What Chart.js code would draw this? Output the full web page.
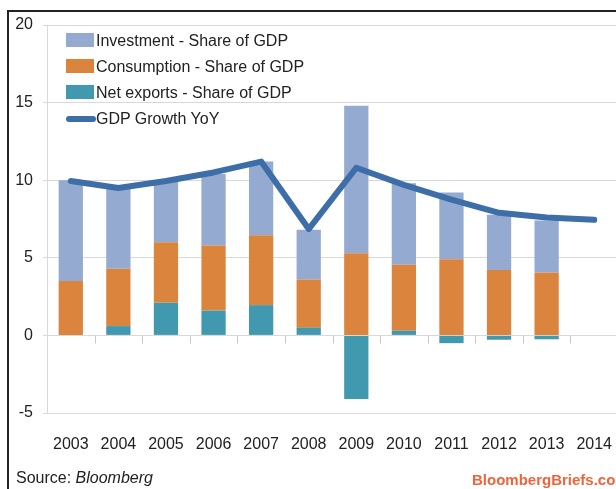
<!DOCTYPE html>
<html>
<head>
<meta charset="utf-8">
<script src="https://cdn.jsdelivr.net/npm/chart.js@4/dist/chart.umd.min.js"></script>
<style>
  html, body { margin: 0; padding: 0; overflow: hidden; background: #fff; }
  body { width: 616px; height: 489px; position: relative; font-family: 'Liberation Sans', sans-serif; color: #222; }
  #frame { position: absolute; left: 7px; top: 10px; width: 700px; height: 600px; border-left: 2px solid #222; border-top: 2px solid #222; }
  #my-chart { position: absolute; left: 0; top: 0; }
  #legend { position: absolute; left: 66px; top: 33px; font-size: 16px; }
  .row { position: relative; height: 26px; line-height: 15px; }
  .sw { position: absolute; left: 0; top: 0; width: 28px; height: 14px; }
  .ln { position: absolute; left: 0; top: 5px; width: 30px; height: 6px; border-radius: 3px; }
  .tx { position: absolute; left: 30px; top: 0; white-space: nowrap; }
  #source { position: absolute; left: 16px; top: 469px; font-size: 16px; }
  #brand { position: absolute; left: 472px; top: 471px; color: #f0643c; white-space: nowrap; font-size: 15px; font-weight: bold; }
</style>
</head>
<body>
<div id="frame"></div>
<canvas id="my-chart" width="618" height="489"></canvas>
<div id="legend"></div>
<div id="source">Source: <i>Bloomberg</i></div>
<div id="brand">BloombergBriefs.com</div>
<script>
const years = ['2003', '2004', '2005', '2006', '2007', '2008', '2009', '2010', '2011', '2012', '2013', '2014'];
const investment = [6.5, 5.3, 3.9, 4.6, 4.75, 3.2, 9.5, 5.25, 4.3, 3.55, 3.35, null];
const consumption = [3.5, 3.7, 3.9, 4.2, 4.5, 3.1, 5.3, 4.25, 4.9, 4.22, 4.05, null];
const netExports = [0, 0.6, 2.1, 1.6, 1.95, 0.5, -4.1, 0.3, -0.5, -0.28, -0.25, null];
const gdpGrowth = [9.95, 9.5, 9.95, 10.5, 11.2, 6.85, 10.8, 9.7, 8.75, 7.9, 7.6, 7.45];
const yTicks = [-5, 0, 5, 10, 15, 20];

const fontFamily = "'Liberation Sans', sans-serif";
const gridColor = '#d9d9d9';

// tick marks along the zero line, between categories
const zeroTicks = {
  id: 'zeroTicks',
  afterDatasetsDraw(chart) {
    const x = chart.scales.x;
    const y = chart.scales.y;
    const ctx = chart.ctx;
    const y0 = Math.round(y.getPixelForValue(0)) + 0.5;
    ctx.save();
    ctx.strokeStyle = '#c8c8c8';
    ctx.lineWidth = 1;
    ctx.beginPath();
    for (let i = 0; i < years.length - 1; i++) {
      const px = Math.round((x.getPixelForValue(i) + x.getPixelForValue(i + 1)) / 2) + 0.5;
      ctx.moveTo(px, y0);
      ctx.lineTo(px, y0 + 8);
    }
    ctx.stroke();
    ctx.restore();
  }
};

const ctx = document.getElementById('my-chart').getContext('2d');

const chart = new Chart(ctx, {
  type: 'bar',
  data: {
    labels: years,
    datasets: [
      {
        type: 'line',
        label: 'GDP Growth YoY',
        data: gdpGrowth,
        borderColor: '#3d6ea8',
        backgroundColor: '#3d6ea8',
        borderWidth: 6,
        pointRadius: 0,
        tension: 0,
        borderCapStyle: 'round',
        borderJoinStyle: 'round',
        stack: 'line',
        order: 0
      },
      {
        label: 'Net exports - Share of GDP',
        data: netExports,
        backgroundColor: '#4199b0',
        stack: 'gdp',
        order: 1
      },
      {
        label: 'Consumption - Share of GDP',
        data: consumption,
        backgroundColor: '#db843d',
        stack: 'gdp',
        order: 1
      },
      {
        label: 'Investment - Share of GDP',
        data: investment,
        backgroundColor: '#94aad0',
        stack: 'gdp',
        order: 1
      }
    ]
  },
  options: {
    responsive: false,
    animation: false,
    layout: { padding: { top: 25, right: 0, bottom: 0, left: 0 } },
    plugins: { legend: { display: false }, tooltip: { enabled: false } },
    datasets: { bar: { barPercentage: 0.51, categoryPercentage: 1 } },
    scales: {
      x: {
        stacked: true,
        grid: { display: false },
        border: { display: false },
        ticks: { color: '#222', font: { family: fontFamily, size: 16 }, padding: 14, maxRotation: 0 },
        afterFit: s => { s.height = 76; s.paddingLeft = 0; s.paddingRight = 0; }
      },
      y: {
        stacked: true,
        min: -5,
        max: 20,
        afterBuildTicks: s => { s.ticks = yTicks.map(v => ({ value: v })); },
        grid: { color: gridColor, tickLength: 4 },
        border: { color: gridColor },
        ticks: { color: '#222', font: { family: fontFamily, size: 16 }, padding: 10 },
        afterFit: s => { s.width = 47; }
      }
    }
  },
  plugins: [zeroTicks]
});

// legend in the order of the reference
const legendEl = document.getElementById('legend');
[3, 2, 1, 0].forEach(i => {
  const ds = chart.data.datasets[i];
  const row = document.createElement('div');
  row.className = 'row';
  const mark = document.createElement('div');
  mark.className = ds.type === 'line' ? 'ln' : 'sw';
  mark.style.background = ds.backgroundColor;
  const tx = document.createElement('div');
  tx.className = 'tx';
  tx.textContent = ds.label;
  row.appendChild(mark);
  row.appendChild(tx);
  legendEl.appendChild(row);
});
</script>
</body>
</html>
